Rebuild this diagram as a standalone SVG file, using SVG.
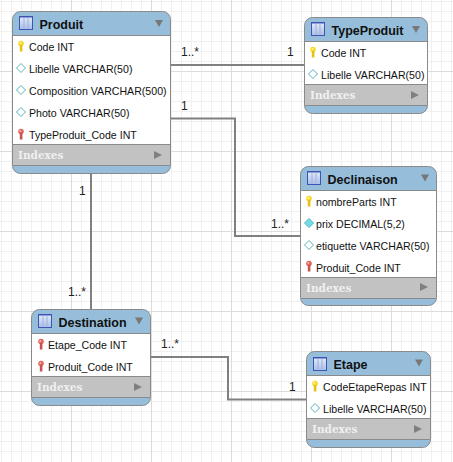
<svg xmlns="http://www.w3.org/2000/svg" width="453" height="462" viewBox="0 0 453 462">
<style>
.r{font:10.6px "Liberation Sans",Arial,sans-serif;fill:#111}
.t{font:bold 12.500px "Liberation Sans",Arial,sans-serif;fill:#111}
.i{font:bold 10.500px "DejaVu Serif","Liberation Serif",serif;fill:#f0f0f0}
.c{font:12px "Liberation Sans",sans-serif;fill:#222}
.box{fill:#96bedb;stroke:#8a8a8a;stroke-width:1}
.body{fill:#fff}
.idx{fill:#c2c2c2}
.sep{stroke:#8a8a8a;stroke-width:1}
.wire{fill:none;stroke:#808080;stroke-width:2}
.minor{stroke:#f0f0f0;stroke-width:1}
.major{stroke:#dcdcdc;stroke-width:1}
.tri{fill:#777}
.tri2{fill:#808080}
</style>
<defs>
<linearGradient id="g" x1="0" y1="0" x2="0" y2="1"><stop offset="0" stop-color="#e4ecfa"/><stop offset="1" stop-color="#a9bde6"/></linearGradient>
<g id="tb"><rect x="0.500" y="0.500" width="13" height="13" fill="url(#g)" stroke="#3f55b5"/><path d="M5 2v10M9 2v10" stroke="#9fb0dc" fill="none"/><path d="M1 1h12" stroke="#3f55b5"/></g>
<g id="pk"><circle cx="0" cy="-2.500" r="2.800" fill="#f7d928"/><rect x="-1.200" y="-1" width="2.600" height="6.500" fill="#e8c010"/><circle cx="-0.700" cy="-3" r="1" fill="#fff6a8"/></g>
<g id="fk"><circle cx="0" cy="-2.500" r="2.800" fill="#e0675f"/><rect x="-1.200" y="-1" width="2.600" height="6.500" fill="#c9524b"/><circle cx="-0.700" cy="-3" r="1" fill="#f5b5ae"/></g>
<path id="d" d="M0 -4.500L4.500 0L0 4.500L-4.500 0Z" fill="#fff" stroke="#58b4bd"/>
<path id="dn" d="M0 -4.500L4.500 0L0 4.500L-4.500 0Z" fill="#6fdde8" stroke="#58b4bd"/>
<path id="down" d="M-4 -3.500H4L0 3.500Z" class="tri"/>
<path id="right" d="M-4 -4V4L4 0Z" class="tri2"/>
</defs>
<rect width="453" height="462" fill="#fff"/>
<g id="grid">
<path class="minor" d="M1.500 0V462M11.500 0V462M21.500 0V462M31.500 0V462M41.500 0V462M51.500 0V462M61.500 0V462M81.500 0V462M91.500 0V462M101.500 0V462M111.500 0V462M121.500 0V462M131.500 0V462M141.500 0V462M161.500 0V462M171.500 0V462M181.500 0V462M191.500 0V462M201.500 0V462M211.500 0V462M221.500 0V462M241.500 0V462M251.500 0V462M261.500 0V462M271.500 0V462M281.500 0V462M291.500 0V462M301.500 0V462M321.500 0V462M331.500 0V462M341.500 0V462M351.500 0V462M361.500 0V462M371.500 0V462M381.500 0V462M401.500 0V462M411.500 0V462M421.500 0V462M431.500 0V462M441.500 0V462M451.500 0V462"/>
<path class="minor" d="M0 1.500H453M0 11.500H453M0 21.500H453M0 31.500H453M0 41.500H453M0 51.500H453M0 61.500H453M0 81.500H453M0 91.500H453M0 101.500H453M0 111.500H453M0 121.500H453M0 131.500H453M0 141.500H453M0 161.500H453M0 171.500H453M0 181.500H453M0 191.500H453M0 201.500H453M0 211.500H453M0 221.500H453M0 241.500H453M0 251.500H453M0 261.500H453M0 271.500H453M0 281.500H453M0 291.500H453M0 301.500H453M0 321.500H453M0 331.500H453M0 341.500H453M0 351.500H453M0 361.500H453M0 371.500H453M0 381.500H453M0 401.500H453M0 411.500H453M0 421.500H453M0 431.500H453M0 441.500H453M0 451.500H453"/>
<path class="major" d="M71.500 0V462M151.500 0V462M231.500 0V462M311.500 0V462M391.500 0V462M0 71.500H453M0 151.500H453M0 231.500H453M0 311.500H453M0 391.500H453"/>
</g>
<g id="connectors">
<path class="wire" d="M170 65H304"/>
<path class="wire" d="M170 118.500H235V236H300"/>
<path class="wire" d="M91 173V309"/>
<path class="wire" d="M150 357H228V399.500H306"/>
<text class="c" x="181" y="56">1..*</text>
<text class="c" x="287" y="56">1</text>
<text class="c" x="181" y="110">1</text>
<text class="c" x="271" y="228">1..*</text>
<text class="c" x="79" y="195">1</text>
<text class="c" x="68" y="296">1..*</text>
<text class="c" x="161" y="348">1..*</text>
<text class="c" x="289" y="391">1</text>
</g>
<g id="Produit">
<rect class="box" x="12.500" y="11.500" width="158" height="162" rx="8"/>
<rect class="body" x="13" y="36" width="157" height="108"/>
<rect class="idx" x="13" y="144" width="157" height="21"/>
<path class="sep" d="M13 35.500H170M13 165.500H170M13 144.500H170"/>
<use href="#tb" x="19" y="16"/><text class="t" x="39.500" y="29">Produit</text><use href="#down" x="159" y="23.500"/>
<use href="#pk" x="21" y="46"/><text class="r" x="29" y="51">Code INT</text>
<use href="#d" x="21" y="68"/><text class="r" x="29" y="73">Libelle VARCHAR(50)</text>
<use href="#d" x="21" y="90"/><text class="r" x="29" y="95">Composition VARCHAR(500)</text>
<use href="#d" x="21" y="112"/><text class="r" x="29" y="117">Photo VARCHAR(50)</text>
<use href="#fk" x="21" y="134"/><text class="r" x="29" y="139">TypeProduit_Code INT</text>
<text class="i" x="18" y="159">Indexes</text><use href="#right" x="158" y="155"/>
</g>
<g id="TypeProduit">
<rect class="box" x="304.500" y="17.500" width="123" height="96" rx="8"/>
<rect class="body" x="305" y="42" width="122" height="42"/>
<rect class="idx" x="305" y="84" width="122" height="21"/>
<path class="sep" d="M305 41.500H427M305 84.500H427M305 105.500H427"/>
<use href="#tb" x="311" y="22"/><text class="t" x="331.500" y="35">TypeProduit</text><use href="#down" x="416" y="29.500"/>
<use href="#pk" x="313" y="52"/><text class="r" x="321" y="57">Code INT</text>
<use href="#d" x="313" y="74"/><text class="r" x="321" y="79">Libelle VARCHAR(50)</text>
<text class="i" x="310" y="99">Indexes</text><use href="#right" x="415" y="95"/>
</g>
<g id="Declinaison">
<rect class="box" x="300.500" y="166.500" width="136" height="139" rx="8"/>
<rect class="body" x="301" y="191" width="135" height="86"/>
<rect class="idx" x="301" y="277" width="135" height="21"/>
<path class="sep" d="M301 190.500H436M301 277.500H436M301 298.500H436"/>
<use href="#tb" x="307" y="171"/><text class="t" x="327.500" y="184">Declinaison</text><use href="#down" x="425" y="178"/>
<use href="#pk" x="309" y="201"/><text class="r" x="316" y="206">nombreParts INT</text>
<use href="#dn" x="309" y="223"/><text class="r" x="316" y="228">prix DECIMAL(5,2)</text>
<use href="#d" x="309" y="245"/><text class="r" x="316" y="250">etiquette VARCHAR(50)</text>
<use href="#fk" x="309" y="266"/><text class="r" x="316" y="272">Produit_Code INT</text>
<text class="i" x="306" y="292">Indexes</text><use href="#right" x="424" y="287"/>
</g>
<g id="Destination">
<rect class="box" x="31.500" y="309.500" width="119" height="96" rx="8"/>
<rect class="body" x="32" y="334" width="118" height="42"/>
<rect class="idx" x="32" y="376" width="118" height="21"/>
<path class="sep" d="M32 333.500H150M32 376.500H150M32 397.500H150"/>
<use href="#tb" x="38" y="314"/><text class="t" x="58.500" y="327">Destination</text><use href="#down" x="139" y="321"/>
<use href="#fk" x="41" y="344"/><text class="r" x="48" y="349">Etape_Code INT</text>
<use href="#fk" x="41" y="366"/><text class="r" x="48" y="371">Produit_Code INT</text>
<text class="i" x="37" y="391">Indexes</text><use href="#right" x="138" y="387"/>
</g>
<g id="Etape">
<rect class="box" x="306.500" y="351.500" width="124" height="96" rx="8"/>
<rect class="body" x="307" y="376" width="123" height="42"/>
<rect class="idx" x="307" y="418" width="123" height="21"/>
<path class="sep" d="M307 375.500H430M307 418.500H430M307 439.500H430"/>
<use href="#tb" x="313" y="357"/><text class="t" x="333.500" y="369">Etape</text><use href="#down" x="419" y="363"/>
<use href="#pk" x="315" y="386"/><text class="r" x="323" y="391">CodeEtapeRepas INT</text>
<use href="#d" x="315" y="408"/><text class="r" x="323" y="413">Libelle VARCHAR(50)</text>
<text class="i" x="312" y="433">Indexes</text><use href="#right" x="418" y="429"/>
</g>
</svg>
